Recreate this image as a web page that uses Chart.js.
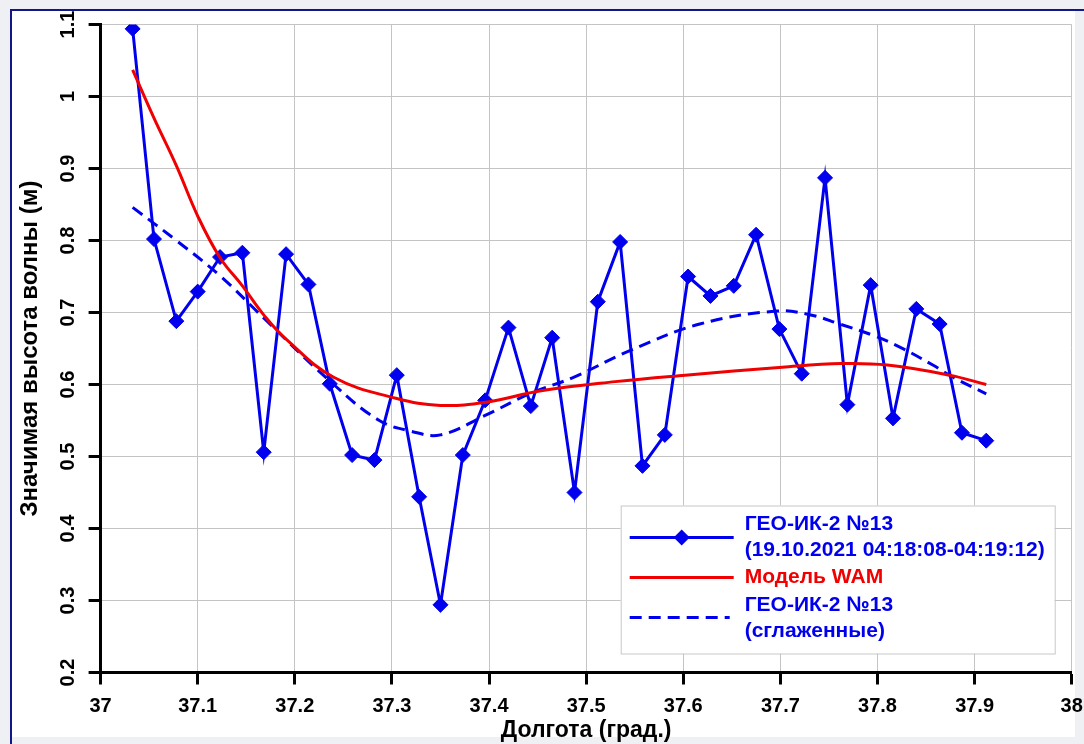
<!DOCTYPE html>
<html>
<head>
<meta charset="utf-8">
<script src="https://cdn.jsdelivr.net/npm/chart.js@4.4.0/dist/chart.umd.min.js"></script>
<style>
  html, body { margin: 0; padding: 0; background: #eef0f4; }
  #wrap { position: relative; width: 1084px; height: 744px; }
</style>
</head>
<body>
<div id="wrap"><canvas id="waveChart" width="1084" height="744"></canvas></div>
<script>
// ГЕО-ИК-2 №13, измерения
const lonObs = [37.033, 37.055, 37.078, 37.100, 37.123, 37.146, 37.168, 37.191, 37.214, 37.236,
                37.259, 37.282, 37.305, 37.328, 37.350, 37.373, 37.396, 37.420, 37.443, 37.465,
                37.488, 37.512, 37.535, 37.558, 37.581, 37.605, 37.628, 37.652, 37.675, 37.699,
                37.722, 37.746, 37.769, 37.793, 37.816, 37.840, 37.864, 37.887, 37.912];
const hsObs = [1.094, 0.802, 0.688, 0.729, 0.777, 0.783, 0.506, 0.781, 0.739, 0.601,
               0.502, 0.495, 0.613, 0.444, 0.294, 0.502, 0.578, 0.679, 0.570, 0.665,
               0.450, 0.715, 0.798, 0.487, 0.530, 0.750, 0.723, 0.737, 0.808, 0.677,
               0.615, 0.887, 0.572, 0.738, 0.553, 0.705, 0.684, 0.533, 0.522];

// модель WAM
const lonWam = [37.033, 37.055, 37.078, 37.100, 37.123, 37.146, 37.169, 37.191, 37.240, 37.304,
                37.350, 37.400, 37.452, 37.530, 37.602, 37.702, 37.763, 37.810, 37.874, 37.912];
const hsWam = [1.037, 0.970, 0.904, 0.834, 0.776, 0.737, 0.695, 0.663, 0.610, 0.581,
               0.571, 0.576, 0.591, 0.604, 0.613, 0.624, 0.629, 0.627, 0.613, 0.600];

// сглаженные
const lonSmooth = [37.033, 37.078, 37.123, 37.169, 37.240, 37.287, 37.320, 37.350, 37.396, 37.443,
                   37.487, 37.545, 37.617, 37.696, 37.730, 37.761, 37.796, 37.823, 37.857, 37.878, 37.912];
const hsSmooth = [0.846, 0.800, 0.751, 0.691, 0.600, 0.550, 0.535, 0.530, 0.557, 0.588,
                  0.610, 0.647, 0.684, 0.702, 0.697, 0.684, 0.668, 0.652, 0.627, 0.610, 0.587];

const xRange = [37, 38];
const yRange = [0.2, 1.1];

const BLUE = '#0000ee';
const RED = '#f00000';
const FONT = "'Liberation Sans', Arial, sans-serif";

const pts = (xs, ys) => xs.map((x, i) => ({ x: x, y: ys[i] }));
const fmt = v => String(Math.round(v * 10) / 10);

Chart.defaults.font.family = FONT;

const framePlugin = {
  id: 'frame',
  beforeDraw(chart) {
    const ctx = chart.ctx;
    ctx.save();
    ctx.fillStyle = '#eef0f4';
    ctx.fillRect(0, 0, chart.width, chart.height);
    ctx.fillStyle = '#ffffff';
    ctx.fillRect(12, 11, 1063, 726);
    ctx.fillStyle = '#15158a';
    ctx.fillRect(10, 9, 1074, 2);
    ctx.fillRect(10, 9, 2, 735);
    ctx.restore();
  }
};

const boxLegend = {
  id: 'boxLegend',
  afterDraw(chart) {
    const ctx = chart.ctx;
    const a = chart.chartArea;
    const x0 = a.right - 451, y0 = a.bottom - 167, w = 434, h = 148;
    ctx.save();
    ctx.fillStyle = '#ffffff';
    ctx.fillRect(x0, y0, w, h);
    ctx.strokeStyle = '#c8c8c8';
    ctx.lineWidth = 1;
    ctx.strokeRect(x0 + 0.5, y0 + 0.5, w, h);

    const lx1 = x0 + 9, lx2 = x0 + 113, tx = x0 + 124;
    ctx.lineWidth = 3;

    // 1
    ctx.strokeStyle = BLUE;
    ctx.beginPath(); ctx.moveTo(lx1, y0 + 32); ctx.lineTo(lx2, y0 + 32); ctx.stroke();
    const cx = (lx1 + lx2) / 2, cy = y0 + 32, r = 8;
    ctx.fillStyle = BLUE;
    ctx.beginPath();
    ctx.moveTo(cx, cy - r); ctx.lineTo(cx + r, cy); ctx.lineTo(cx, cy + r); ctx.lineTo(cx - r, cy);
    ctx.closePath(); ctx.fill();

    // 2
    ctx.strokeStyle = RED;
    ctx.beginPath(); ctx.moveTo(lx1, y0 + 72); ctx.lineTo(lx2, y0 + 72); ctx.stroke();

    // 3
    ctx.strokeStyle = BLUE;
    ctx.setLineDash([12, 7]);
    ctx.beginPath(); ctx.moveTo(lx1, y0 + 112); ctx.lineTo(lx2 - 4, y0 + 112); ctx.stroke();
    ctx.setLineDash([]);

    ctx.font = 'bold 21px ' + FONT;
    ctx.textBaseline = 'middle';
    ctx.textAlign = 'left';
    ctx.fillStyle = BLUE;
    ctx.fillText('ГЕО-ИК-2 №13', tx, y0 + 19);
    ctx.fillText('(19.10.2021 04:18:08-04:19:12)', tx, y0 + 45);
    ctx.fillStyle = RED;
    ctx.fillText('Модель WAM', tx, y0 + 72);
    ctx.fillStyle = BLUE;
    ctx.fillText('ГЕО-ИК-2 №13', tx, y0 + 100);
    ctx.fillText('(сглаженные)', tx, y0 + 126);
    ctx.restore();
  }
};

const ctx = document.getElementById('waveChart').getContext('2d');

new Chart(ctx, {
  type: 'line',
  data: {
    datasets: [
      {
        label: 'Модель WAM',
        data: pts(lonWam, hsWam),
        borderColor: RED,
        borderWidth: 3,
        pointRadius: 0,
        tension: 0.4,
        fill: false,
        order: 0
      },
      {
        label: 'ГЕО-ИК-2 №13 (19.10.2021 04:18:08-04:19:12)',
        data: pts(lonObs, hsObs),
        borderColor: BLUE,
        backgroundColor: BLUE,
        borderWidth: 3,
        pointStyle: 'rectRot',
        pointRadius: 7.5,
        pointBorderWidth: 1,
        pointBackgroundColor: BLUE,
        pointBorderColor: BLUE,
        tension: 0,
        fill: false,
        order: 1
      },
      {
        label: 'ГЕО-ИК-2 №13 (сглаженные)',
        data: pts(lonSmooth, hsSmooth),
        borderColor: BLUE,
        borderWidth: 3,
        borderDash: [12, 7],
        pointRadius: 0,
        tension: 0.4,
        fill: false,
        order: 2
      }
    ]
  },
  options: {
    responsive: false,
    animation: false,
    layout: { padding: { left: 12, right: 12.3, top: 24.5, bottom: 0 } },
    plugins: {
      legend: { display: false },
      tooltip: { enabled: false }
    },
    scales: {
      x: {
        type: 'linear',
        min: xRange[0],
        max: xRange[1],
        afterFit(s) { s.height = 71.5; s.paddingLeft = 0; s.paddingRight = 0; },
        grid: { color: '#c4c4c4', lineWidth: 1, tickColor: '#000', tickWidth: 3, tickLength: 12 },
        border: { color: '#000', width: 3 },
        ticks: {
          stepSize: 0.1,
          maxRotation: 0,
          padding: 10,
          color: '#000',
          font: { size: 20, weight: 'bold' },
          callback: v => fmt(v)
        },
        title: {
          display: true,
          text: 'Долгота (град.)',
          color: '#000',
          font: { size: 23, weight: 'bold' },
          padding: { top: 0, bottom: 0 }
        }
      },
      y: {
        type: 'linear',
        min: yRange[0],
        max: yRange[1],
        afterFit(s) { s.width = 88.6; },
        grid: { color: '#c4c4c4', lineWidth: 1, tickColor: '#000', tickWidth: 3, tickLength: 12 },
        border: { color: '#000', width: 3 },
        ticks: {
          stepSize: 0.1,
          minRotation: 90,
          maxRotation: 90,
          crossAlign: 'center',
          padding: 6,
          color: '#000',
          font: { size: 20, weight: 'bold' },
          callback: v => fmt(v)
        },
        title: {
          display: true,
          text: 'Значимая высота волны (м)',
          color: '#000',
          font: { size: 24, weight: 'bold' },
          padding: { top: 4, bottom: 0 }
        }
      }
    }
  },
  plugins: [framePlugin, boxLegend]
});
</script>
</body>
</html>
